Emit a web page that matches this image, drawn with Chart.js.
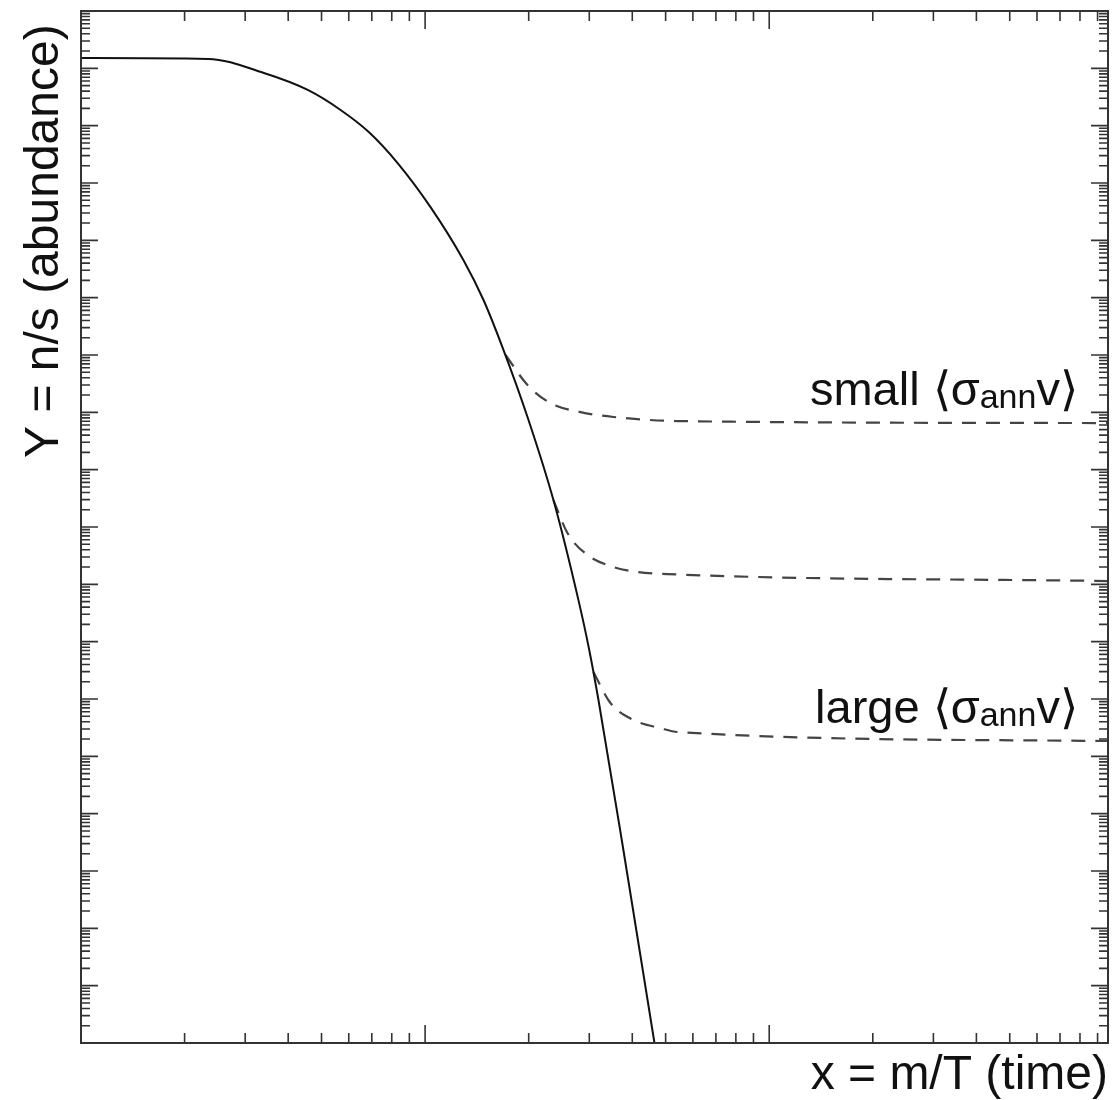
<!DOCTYPE html>
<html lang="en">
  <head>
    <meta charset="UTF-8" />
    <title>Freeze-out abundance</title>
    <script src="https://cdn.jsdelivr.net/npm/chart.js"></script>
    <style>
      body {
        margin: 0;
        background-color: white;
      }
      .chart-container {
        width: 1115px;
        height: 1100px;
      }
    </style>
  </head>

  <body>
    <div class="chart-container">
      <canvas id="myChart"></canvas>
    </div>

    <script>
      // equilibrium abundance (solid)
      const eqX = [1, 2.34, 3.4, 4.56, 5.68, 6.86, 8.32, 10.37, 12.93, 14.78, 16.9, 19.84, 23.6, 27.9, 30.0, 31.9, 37.7, 46.4];
      const eqY = [1.51e-1, 1.46e-1, 8.3e-2, 4.2e-2, 1.88e-2, 7.75e-3, 2.23e-3, 3.8e-4, 4.5e-5, 9.1e-6, 1.22e-6, 8.3e-8, 2.95e-9, 5.3e-11, 7.1e-12, 9.6e-13, 2.3e-15, 1e-18];

      // freeze-out branches (dashed)
      const smallX = [17.13, 19.84, 23.13, 28.3, 35.3, 54.1, 965];
      const smallY = [1.0e-6, 3.0e-7, 1.45e-7, 1.01e-7, 8.3e-8, 7.05e-8, 6.5e-8];
      const midX = [23.6, 25.92, 29.63, 35.3, 41.4, 50.6, 965];
      const midY = [2.95e-9, 7.85e-10, 3.25e-10, 2.0e-10, 1.64e-10, 1.51e-10, 1.14e-10];
      const largeX = [30.84, 34.56, 40.3, 48.3, 54.4, 965];
      const largeY = [2.95e-12, 8.5e-13, 4.3e-13, 3.1e-13, 2.65e-13, 1.85e-13];

      // label words, placed over the small / large branches
      const labelWords = ["small", "large"];
      const labelRightX = 789;

      const family = '"Liberation Sans", Arial, Helvetica, sans-serif';

      function toPoints(xs, ys) {
        return xs.map((x, i) => ({ x: x, y: ys[i] }));
      }

      function dashed(xs, ys) {
        return {
          data: toPoints(xs, ys),
          borderColor: "#444",
          borderWidth: 2.2,
          borderDash: [14, 10],
          cubicInterpolationMode: "monotone",
        };
      }

      function drawSigmaLabel(ctx, word, rightPx, baseline) {
        const big = "47px " + family;
        const sub = "34px " + family;
        const parts = [
          [word + " \u27E8\u03C3", big, 0],
          ["ann", sub, 3],
          ["v\u27E9", big, 0],
        ];
        let total = 0;
        parts.forEach((p) => {
          ctx.font = p[1];
          total += ctx.measureText(p[0]).width;
        });
        let px = rightPx - total;
        parts.forEach((p) => {
          ctx.font = p[1];
          ctx.fillText(p[0], px, baseline + p[2]);
          px += ctx.measureText(p[0]).width;
        });
      }

      const frameTicks = {
        id: "frameTicks",
        afterDatasetsDraw(chart) {
          const { ctx, chartArea, scales } = chart;
          const { left, right, top, bottom } = chartArea;
          const xs = scales.x;
          const ys = scales.y;
          ctx.save();
          ctx.strokeStyle = "#333";
          ctx.lineWidth = 1.6;
          ctx.beginPath();
          for (let n = -18; n <= 0; n++) {
            for (let k = 1; k < 10; k++) {
              const v = k * Math.pow(10, n);
              if (v < ys.min * 0.999 || v > ys.max * 1.001) continue;
              const py = ys.getPixelForValue(v);
              const len = k === 1 ? 17 : 9;
              ctx.moveTo(left, py);
              ctx.lineTo(left + len, py);
              ctx.moveTo(right, py);
              ctx.lineTo(right - len, py);
            }
          }
          for (let n = 0; n <= 2; n++) {
            for (let k = 1; k < 10; k++) {
              const v = k * Math.pow(10, n);
              if (v < xs.min || v > xs.max) continue;
              const px = xs.getPixelForValue(v);
              const len = k === 1 ? 18 : 10;
              ctx.moveTo(px, bottom);
              ctx.lineTo(px, bottom - len);
              ctx.moveTo(px, top);
              ctx.lineTo(px, top + len);
            }
          }
          ctx.stroke();
          ctx.lineWidth = 2;
          ctx.strokeRect(left, top, right - left, bottom - top);

          ctx.fillStyle = "#111";
          ctx.textAlign = "left";
          ctx.textBaseline = "alphabetic";
          const rx = xs.getPixelForValue(labelRightX);
          drawSigmaLabel(ctx, labelWords[0], rx, ys.getPixelForValue(smallY[smallY.length - 1]) - 18);
          drawSigmaLabel(ctx, labelWords[1], rx, ys.getPixelForValue(largeY[largeY.length - 1]) - 18);
          ctx.restore();
        },
      };

      const ctx = document.getElementById("myChart").getContext("2d");
      const myChart = new Chart(ctx, {
        type: "line",
        data: {
          datasets: [
            {
              data: toPoints(eqX, eqY),
              borderColor: "#111",
              borderWidth: 2,
              cubicInterpolationMode: "monotone",
            },
            dashed(smallX, smallY),
            dashed(midX, midY),
            dashed(largeX, largeY),
          ],
        },
        options: {
          responsive: true,
          maintainAspectRatio: false,
          animation: false,
          layout: {
            padding: { top: 11, right: 7, left: 10, bottom: 0 },
          },
          elements: {
            point: { radius: 0 },
          },
          plugins: {
            legend: { display: false },
            tooltip: { enabled: false },
          },
          scales: {
            x: {
              type: "logarithmic",
              min: 1,
              max: 965,
              grid: { display: false, drawTicks: false },
              border: { display: false },
              ticks: { display: false },
              title: {
                display: true,
                text: "x = m/T (time)",
                align: "end",
                color: "#111",
                font: { size: 48, family: family, lineHeight: 1 },
                padding: { top: 9, bottom: 0 },
              },
            },
            y: {
              type: "logarithmic",
              min: 1e-18,
              max: 1,
              grid: { display: false, drawTicks: false },
              border: { display: false },
              ticks: { display: false },
              title: {
                display: true,
                text: "Y = n/s (abundance) ",
                align: "end",
                color: "#111",
                font: { size: 48, family: family, lineHeight: 1 },
                padding: { top: 11, bottom: 12 },
              },
            },
          },
        },
        plugins: [frameTicks],
      });
    </script>
  </body>
</html>
